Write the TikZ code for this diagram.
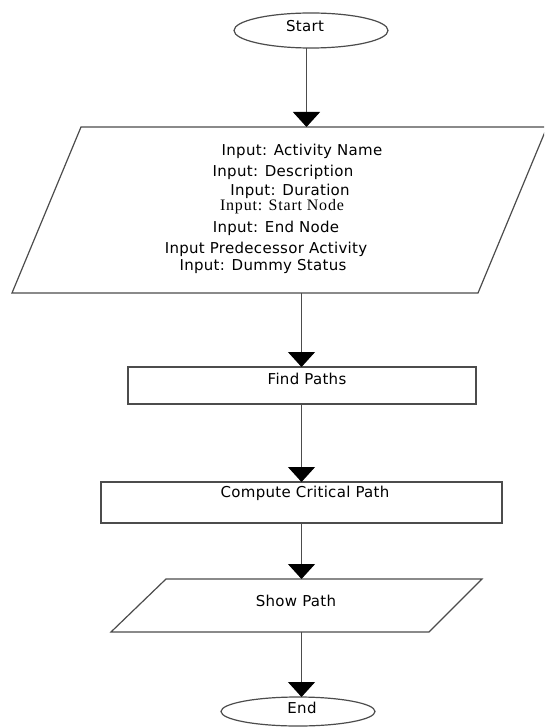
\documentclass[tikz,border=0pt]{standalone}
\usepackage{fontspec}
\setmainfont{DejaVu Sans}
\newfontfamily\flowfont[LetterSpace=2]{DejaVu Sans}
\newfontfamily\flowserif[LetterSpace=5]{Liberation Serif}
\usetikzlibrary{arrows.meta,shapes.geometric}

\begin{document}
\begin{tikzpicture}[x=1pt,y=-1pt,
  outline/.style={draw=black!70, line width=1.2pt, inner sep=0pt, outer sep=0pt},
  terminal/.style={outline, ellipse, minimum width=154pt},
  procbox/.style={outline, rectangle},
  txt/.style={inner sep=0pt, anchor=base, font=\flowfont\fontsize{15}{18}\selectfont},
  seriftxt/.style={inner sep=0pt, anchor=base, font=\flowserif\fontsize{16}{19}\selectfont},
  flow/.style={draw=black!70, line width=1.2pt, -{Triangle[width=27pt,length=15pt,black]}},
]
\useasboundingbox[fill=white] (0,0) rectangle (544,727);
\clip (0,0) rectangle (544,727);

% terminals and process boxes
\node[terminal, minimum height=35pt] (start) at (311,30.5) {};
\node[procbox, minimum width=348pt, minimum height=37pt] (findp) at (302,385.5) {};
\node[procbox, minimum width=401pt, minimum height=41pt] (comp) at (301.5,502.5) {};
\node[terminal, minimum height=29pt] (end) at (298,711.5) {};

% input/output parallelograms
\draw[outline] (81,127) -- (547,127) -- (478,293) -- (12,293) -- cycle;
\coordinate (inpTop) at (306.5,127);
\coordinate (inpBot) at (301.5,293);
\draw[outline] (166,579) -- (482,579) -- (429,632) -- (111,632) -- cycle;
\coordinate (showTop) at (301.5,579);
\coordinate (showBot) at (301.5,632);

% texts
\node[txt] (tstart) at (305,32) {Start};
\node[txt] (t1) at (302,156) {Input: Activity Name};
\node[txt] (t2) at (283,177) {Input: Description};
\node[txt] (t3) at (290,196) {Input: Duration};
\node[seriftxt] (t4) at (282,211) {Input: Start Node};
\node[txt] (t5) at (276,232) {Input: End Node};
\node[txt] (t6) at (266,253) {Input Predecessor Activity};
\node[txt] (t7) at (263,270) {Input: Dummy Status};
\node[txt] (tfind) at (307,384) {Find Paths};
\node[txt] (tcomp) at (305,497) {Compute Critical Path};
\node[txt] (tshow) at (296,606) {Show Path};
\node[txt] (tend) at (302,713) {End};

% connectors
\draw[flow] (start.south -| inpTop) -- (inpTop);
\draw[flow] (inpBot) -- (findp.north -| inpBot);
\draw[flow] (findp.south -| comp.north) -- (comp.north);
\draw[flow] (comp.south) -- (showTop);
\draw[flow] (showBot) -- (end.north -| showBot);
\end{tikzpicture}
\end{document}
